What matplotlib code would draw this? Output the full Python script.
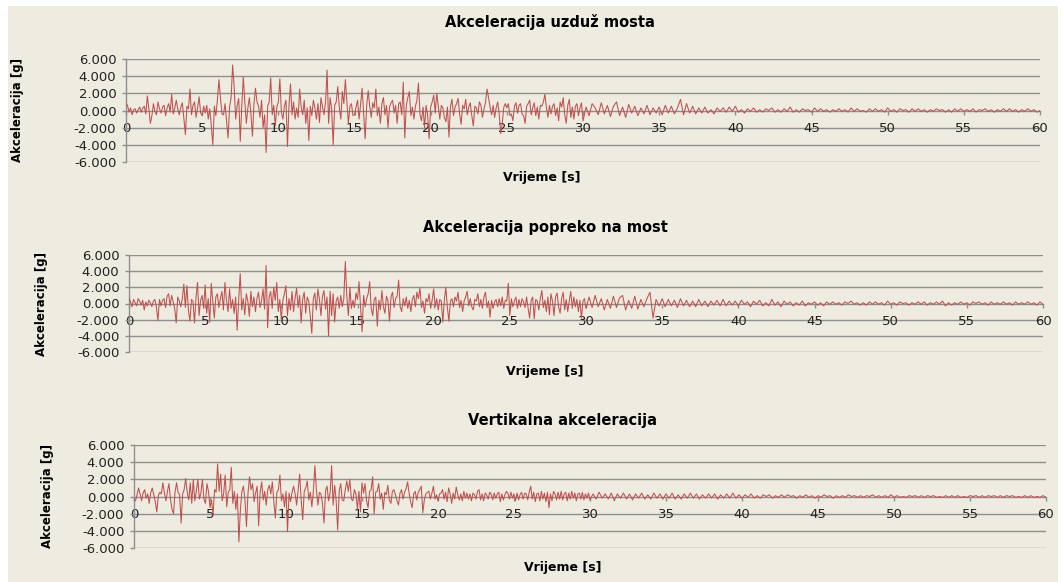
import numpy as np
import matplotlib
matplotlib.use("Agg")
import matplotlib.pyplot as plt

# vremenski koraci: 0.1 s do 30 s, 0.2 s od 30 do 60 s
t_fast = np.arange(300) * 0.1
t_slow = 30 + np.arange(151) * 0.2

# Akceleracija uzduz mosta [g], 0-30 s (jedan red = 1 s)
uzduz_fast = [
    0.8, 0.6, -0.2, 0.3, -0.5, 0.1, 0.2, -0.3, 0.1, 0.4,
    -0.2, 0.3, 0.5, -0.4, 1.7, 0.2, -1.5, -0.6, 0.8, -0.1,
    -0.5, 1.0, 0.2, -0.3, 0.4, 0.6, -0.6, 0.3, 0.8, -0.2,
    1.9, -0.4, 0.3, 1.2, 0.2, -0.5, 0.4, 0.9, -1.0, -2.8,
    0.5, 0.2, 2.5, -0.5, 0.6, 1.0, -0.8, 0.3, 1.6, -0.3,
    -0.6, 0.5, -0.3, 0.6, -1.0, 0.2, -1.8, -4.0, 0.5, -0.6,
    1.2, 3.6, 1.5, -0.4, -0.5, 0.8, -1.2, -3.2, 0.4, 1.5,
    5.3, 2.8, -1.0, 0.6, 1.4, -3.6, 0.5, 3.9, 1.0, -1.5,
    0.3, 1.5, -0.4, -3.0, 0.8, 2.6, 1.0, 0.5, -0.8, 1.2,
    -2.0, -0.5, -4.9, 0.5, 1.0, 3.8, -0.5, 0.6, -1.8, 0.4,
    1.0, 3.7, -0.2, -1.0, 0.5, 1.2, -4.2, 0.6, 3.1, -0.5,
    1.0, -1.0, 0.3, -0.8, 2.5, 0.4, -0.5, 1.2, -1.5, 0.3,
    -3.5, 0.5, -0.6, 1.2, 0.3, -1.0, 0.8, -1.4, 1.5, 0.4,
    -0.5, 1.0, 4.7, -1.5, 1.5, 0.2, -4.0, 0.6, 1.0, 2.8,
    0.4, -1.0, 2.2, 0.8, 3.6, 1.0, -1.5, 0.5, 0.8, -0.6,
    -0.5, 0.4, 1.2, -1.0, 0.7, 2.6, -0.4, -3.3, 0.6, 2.3,
    0.5, -0.8, 0.9, 0.3, 2.5, -0.6, 0.4, -1.5, 0.8, 1.5,
    -0.5, 0.6, -2.0, 0.4, 0.9, 1.2, -0.3, 0.6, -1.5, 0.8,
    1.0, -0.5, 3.3, -3.2, 0.6, 1.5, 2.2, -0.6, 0.4, -1.0,
    0.5, 1.2, 3.2, -0.5, -1.2, 0.4, -2.0, 0.6, -0.5, -3.3,
    0.4, 1.0, 1.8, -0.3, 2.0, 0.5, -1.0, 0.6, 0.3, -0.8,
    -1.3, 0.4, -3.1, 0.5, 1.3, -0.6, 0.4, 0.8, 1.4, -0.4,
    -1.6, 0.6, 0.2, 1.3, -0.5, 0.4, 0.9, -0.6, -1.8, 0.5,
    0.3, -0.4, 1.0, 0.6, -0.8, 0.2, 0.9, 2.5, 1.5, 0.4,
    -0.5, 0.6, -0.8, 0.3, 1.0, -0.4, -2.7, -1.5, 0.4, 0.8,
    0.3, 0.8, -0.6, -0.4, -1.2, 0.5, 0.9, -0.3, 0.6, 0.8,
    -0.4, -0.6, -1.5, 0.5, 0.8, 1.2, -0.5, 0.3, 0.9, -0.6,
    0.4, -1.0, 0.6, 0.5, 1.0, 1.9, 0.3, -0.8, 0.6, -0.4,
    0.5, 0.8, -0.6, 0.3, -1.2, 1.0, 0.4, 1.5, -0.5, -1.5,
    0.6, 1.3, -0.8, 0.4, -1.0, 0.5, 0.8, -0.6, 0.3, 0.9,
]
# 30-60 s (jedan red = 1 s)
uzduz_slow = [
    -1.2, 0.4, -0.6, 0.8, 0.3,
    -0.5, 0.9, -0.4, 0.6, -0.7,
    0.5, 1.0, -0.6, 0.4, -0.8,
    0.7, -0.3, 0.5, -0.6, 0.3,
    -0.4, 0.6, -0.5, 0.3, -0.3,
    0.4, -0.5, 0.6, -0.3, 0.5,
    -0.4, 0.3, 1.3, -0.5, 0.8,
    -0.3, 0.5, -0.4, 0.3, -0.3,
    0.4, -0.3, 0.1, -0.4, 0.3,
    -0.1, 0.3, -0.2, 0.4, -0.1,
    0.5, -0.2, 0.1, -0.3, 0.2,
    -0.1, 0.3, -0.2, 0.1, -0.2,
    0.2, 0.0, 0.3, -0.2, 0.1,
    -0.2, 0.2, -0.1, 0.4, -0.2,
    0.1, -0.2, 0.2, 0.0, 0.1,
    -0.2, 0.3, -0.1, 0.2, -0.1,
    0.1, -0.2, 0.1, -0.1, 0.2,
    -0.1, 0.1, -0.2, 0.3, -0.1,
    0.2, -0.1, 0.0, -0.2, 0.2,
    -0.1, 0.2, -0.1, 0.1, -0.2,
    0.3, -0.1, 0.1, -0.2, 0.2,
    0.0, 0.1, -0.2, 0.2, -0.1,
    0.2, -0.1, 0.1, -0.2, 0.1,
    -0.1, 0.2, 0.0, 0.1, -0.2,
    0.1, -0.2, 0.2, -0.1, 0.2,
    -0.1, 0.1, -0.1, 0.2, -0.2,
    0.1, 0.0, 0.2, -0.1, 0.1,
    -0.2, 0.1, -0.1, 0.2, -0.1,
    0.2, -0.1, 0.1, -0.2, 0.1,
    -0.1, 0.2, -0.1, 0.1, -0.2,
    0.0,
]

# Akceleracija popreko na most [g]
popreko_fast = [
    0.7, 0.2, -0.4, 0.5, 0.1, -0.3, 0.6, 0.3, -0.2, 0.4,
    -0.8, 0.2, -0.3, 0.4, 0.1, -0.4, 0.3, 0.5, -0.5, -2.1,
    0.5, -0.3, 0.4, 0.6, -0.5, 0.9, 1.2, -0.3, 1.0, 0.2,
    -0.6, -2.4, 0.8, 0.3, -0.4, 0.6, 2.4, -0.5, 2.2, -0.8,
    -2.2, 0.5, 0.3, -2.4, 0.8, 2.6, -1.5, 0.4, 1.0, -0.6,
    2.3, -1.2, 0.6, -2.3, 2.5, 0.3, -1.8, 0.8, 1.2, -0.5,
    0.6, 1.5, -0.8, 2.6, 0.4, -1.0, 1.8, -0.6, 0.5, -1.2,
    0.8, -3.3, 0.5, 3.7, -0.8, 0.6, -1.4, 1.2, 0.3, -1.6,
    1.5, -0.4, 0.8, -1.0, 0.6, 1.4, -0.5, 0.3, 1.8, -0.7,
    4.7, -3.0, 0.8, 1.5, -0.6, 2.0, 0.4, 2.6, -1.0, 0.5,
    -2.0, 0.4, 1.2, 2.2, -1.5, 0.6, -0.8, 1.5, -1.0, 0.6,
    1.9, -0.5, 1.0, -2.4, 0.5, 1.4, -1.2, 0.8, 0.3, -1.6,
    -3.7, 0.6, 1.3, -0.8, 1.8, 0.5, -1.5, 0.9, 1.6, -0.7,
    0.8, -4.0, 1.5, -1.5, 1.2, -2.3, 0.3, 0.8, -0.6, 1.0,
    -0.4, 0.6, 5.2, 0.8, -1.5, 2.0, -0.6, 0.4, -0.5, 1.3,
    0.5, 2.7, -0.5, -3.5, 1.0, -0.4, 0.6, 1.2, 2.7, -0.6,
    -1.5, 0.5, 0.8, -2.8, 0.4, -0.8, 1.6, -0.4, -1.2, 0.9,
    0.3, -2.2, 0.8, 1.4, -0.5, 0.6, 0.9, 2.9, -0.4, -1.0,
    0.6, -0.3, 0.8, -0.6, 0.4, -1.0, 0.5, 1.0, -0.4, 1.4,
    0.6, 1.9, -0.5, 0.3, -1.2, 0.6, 0.2, 1.2, -0.6, 0.4,
    1.8, -0.4, 0.6, -0.8, 0.5, 0.3, -2.3, 0.4, 2.0, -0.5,
    -2.2, 0.3, 0.6, -0.4, 0.8, 0.3, 1.4, -0.5, 0.4, -1.0,
    0.3, 0.8, 1.5, -0.3, 0.6, -0.4, -0.8, 0.5, 0.3, 1.2,
    -0.4, 0.5, -0.6, 0.8, 1.4, -0.5, 0.3, -1.7, 0.4, -0.6,
    0.2, 0.5, -0.4, 0.6, -0.3, 0.8, -0.6, 0.4, 0.3, 2.5,
    -1.5, 0.6, -0.4, 0.3, 0.8, -0.6, 0.5, -0.4, 0.6, 0.2,
    -0.5, 0.8, -0.6, -1.8, 0.4, 0.8, -1.9, 0.5, 0.3, -0.8,
    0.6, 1.6, -0.5, 0.4, -1.0, 0.8, -1.4, 1.2, 0.3, -1.5,
    0.8, 1.3, -0.4, -1.2, 0.6, 1.4, -0.8, 0.5, -1.0, 0.3,
    1.5, -0.6, 0.8, -0.4, 0.5, -1.0, 0.4, -1.8, 0.3, 0.6,
]
popreko_slow = [
    -0.6, 0.8, -0.5, 1.0, -0.4,
    0.6, -0.8, 0.5, -0.6, 0.9,
    -0.5, 0.7, 1.0, -0.8, 0.4,
    -0.6, 0.9, -0.7, 0.5, -0.4,
    0.6, 1.4, -1.8, 0.5, -0.3,
    0.6, -0.4, 0.5, -0.3, 0.4,
    -0.5, 0.6, -0.3, 0.4, -0.4,
    0.3, -0.4, 0.5, -0.3, 0.3,
    -0.4, 0.3, -0.2, 0.4, -0.3,
    0.5, -0.3, 0.3, -0.2, 0.3,
    -0.3, 0.4, -0.1, 0.2, -0.4,
    0.3, -0.1, 0.4, -0.3, 0.1,
    -0.3, 0.5, -0.2, 0.2, -0.4,
    0.3, -0.1, 0.2, -0.3, 0.1,
    -0.2, 0.3, -0.3, 0.1, -0.1,
    0.2, -0.2, 0.1, -0.3, 0.2,
    -0.1, 0.2, -0.1, 0.1, -0.2,
    0.2, 0.0, 0.3, -0.1, 0.1,
    -0.2, 0.1, -0.2, 0.2, -0.1,
    0.2, -0.1, 0.1, -0.2, 0.3,
    -0.1, 0.1, -0.2, 0.2, 0.0,
    0.1, -0.2, 0.1, -0.1, 0.2,
    -0.1, 0.2, -0.2, 0.1, -0.1,
    0.2, -0.1, 0.3, -0.3, 0.1,
    -0.2, 0.1, -0.1, 0.2, -0.1,
    0.1, -0.2, 0.2, 0.0, 0.2,
    -0.1, 0.1, -0.2, 0.2, -0.1,
    0.1, -0.1, 0.2, -0.1, 0.1,
    -0.2, 0.2, -0.1, 0.1, -0.1,
    0.2, -0.1, 0.1, -0.2, 0.2,
    -0.1,
]

# Vertikalna akceleracija [g]
vert_fast = [
    -0.3, -0.5, 0.2, 1.0, 0.3, -0.5, 0.4, 0.8, -0.2, 0.3,
    -0.8, 0.4, 1.0, 0.2, -0.6, -1.8, 0.1, 0.5, 0.3, 1.6,
    0.4, -0.5, 0.6, 1.5, -0.3, -1.5, -2.0, 0.5, 1.6, 0.5,
    0.2, -3.1, 0.3, 0.8, 2.1, 0.5, -0.4, 1.6, -0.8, 2.0,
    -0.5, 0.6, 2.0, -0.3, 0.4, 2.0, -0.3, -0.8, 1.5, 0.6,
    -1.3, -0.4, -2.2, 0.8, 0.5, 3.8, 0.6, 2.6, -0.5, 0.4,
    2.5, -1.2, 0.5, 0.8, 3.4, -0.8, 0.6, -1.5, 0.3, -5.3,
    -1.5, 0.6, 1.2, -0.4, -3.5, 0.4, 2.3, 0.8, 1.5, -0.6,
    0.4, 1.2, -3.4, 0.5, 1.7, -0.4, 0.6, -1.0, 0.8, 1.3,
    0.3, 1.7, -0.6, -2.5, 0.5, 0.8, 2.5, -0.5, 0.3, -1.2,
    0.6, -4.1, 0.4, -0.6, 0.5, 1.2, 0.3, -1.0, 0.8, 2.6,
    -0.5, -2.7, 0.6, 1.0, 1.8, -0.4, 0.5, -1.2, 0.6, 3.6,
    0.8, -1.0, 0.5, 0.3, -0.8, -3.1, 0.6, 1.2, -0.5, 0.4,
    3.6, -1.0, 1.3, -0.5, -3.9, 0.6, 1.5, -0.4, -0.5, 0.8,
    1.8, 0.6, 2.0, -0.3, -0.5, 0.8, 0.3, -1.5, 0.6, -1.8,
    1.6, 0.4, 1.5, -0.5, -1.3, 0.6, 0.8, 2.3, -2.0, 0.5,
    0.6, 1.5, -0.3, 0.4, -1.5, 0.5, 0.2, 1.3, -0.4, -0.8,
    0.6, 0.8, 0.2, -0.5, -1.0, 0.4, 0.8, -0.3, 0.5, 0.9,
    1.7, 0.4, -0.6, -1.3, 0.3, 0.6, -0.4, 0.5, 0.8, 1.2,
    -1.9, -0.4, 0.3, 0.5, 0.6, -0.3, 0.4, 1.2, -0.3, 0.2,
    -0.5, 0.3, 0.4, 0.8, -0.3, 0.5, -0.6, 1.0, 0.3, -0.8,
    0.4, -0.3, 1.1, 0.2, -0.4, 0.3, -0.5, 0.6, -0.2, 0.4,
    -0.3, 0.3, -0.5, 0.4, 0.2, -0.3, 0.6, 0.8, -0.4, 0.3,
    -0.5, 0.4, 0.2, -0.3, 0.5, 0.3, -0.4, 0.4, -0.2, 0.3,
    0.5, -0.6, 0.3, -0.4, 0.2, 0.6, 0.4, -0.3, 0.5, -0.2,
    0.3, -0.5, 0.4, -0.4, 0.2, 0.5, -0.3, 0.4, 0.3, -0.4,
    0.5, 1.2, -0.3, 0.5, -0.6, 0.3, 0.4, -0.5, 0.6, -0.3,
    0.4, -0.6, 0.5, -1.3, 0.3, -0.5, 0.6, 0.3, -0.4, 0.5,
    -0.3, 0.6, -0.4, 0.3, 0.5, -0.5, 0.4, -0.3, 0.6, -0.2,
    0.4, -0.5, 0.3, 0.4, -0.3, 0.5, -0.4, 0.3, -0.2, 0.4,
]
vert_slow = [
    -0.4, 0.3, -0.3, 0.5, -0.2,
    0.3, -0.3, 0.4, -0.5, 0.3,
    -0.2, 0.4, -0.3, 0.3, -0.4,
    0.3, -0.2, 0.4, -0.3, 0.2,
    -0.3, 0.4, -0.2, 0.3, -0.3,
    0.3, -0.2, 0.4, -0.3, 0.2,
    -0.3, 0.3, -0.2, 0.4, -0.2,
    0.3, -0.3, 0.2, -0.2, 0.3,
    -0.2, 0.3, -0.3, 0.2, -0.2,
    0.3, -0.2, 0.4, -0.2, 0.2,
    -0.2, 0.2, -0.1, 0.3, -0.2,
    0.1, -0.2, 0.2, 0.0, 0.2,
    -0.2, 0.1, -0.1, 0.2, -0.1,
    0.2, 0.0, 0.1, -0.2, 0.1,
    -0.1, 0.2, -0.1, 0.1, -0.2,
    0.1, -0.1, 0.2, 0.0, 0.1,
    -0.2, 0.1, -0.1, 0.1, -0.1,
    0.2, 0.0, 0.1, -0.1, 0.1,
    -0.1, 0.1, 0.0, 0.2, -0.1,
    0.1, -0.1, 0.1, -0.1, 0.2,
    -0.1, 0.1, -0.1, 0.0, -0.1,
    0.1, 0.0, 0.1, -0.1, 0.1,
    -0.1, 0.1, 0.0, 0.1, -0.1,
    0.0, -0.1, 0.1, -0.1, 0.1,
    -0.1, 0.1, -0.1, 0.0, -0.1,
    0.1, 0.0, 0.1, -0.1, 0.1,
    -0.1, 0.1, 0.0, 0.1, -0.1,
    0.1, -0.1, 0.1, 0.0, 0.1,
    -0.1, 0.0, -0.1, 0.1, -0.1,
    0.1, -0.1, 0.0, -0.1, 0.1,
    -0.1,
]

naslovi = ["Akceleracija uzduž mosta", "Akceleracija popreko na most",
           "Vertikalna akceleracija"]
serije = [(uzduz_fast, uzduz_slow), (popreko_fast, popreko_slow),
          (vert_fast, vert_slow)]
y_ticks = [-6, -4, -2, 0, 2, 4, 6]
x_ticks = [0, 5, 10, 15, 20, 25, 30, 35, 40, 45, 50, 55, 60]

bg = "#EEEBE1"
gridc = "#8F8F8F"
linec = "#C0504D"

# polozaj osi u pikselima (lijevo, desno, gore, dolje) i tekstova
W, H = 1064, 582
boxes = [(126, 1040, 59, 162), (129, 1043, 255, 352), (134, 1046, 445, 548)]
title_pos = [(550, 22), (545, 228), (563, 420)]
xlab_pos = [(542, 177), (545, 371), (563, 567)]
ylab_x = [18, 42, 47]

fig = plt.figure(figsize=(W / 100, H / 100), dpi=100)
fig.patch.set_facecolor("white")
# bez podloga s tankim bijelim rubom gore i lijevo
podloga = plt.Rectangle((8 / W, 0), 1 - 14 / W, 1 - 6 / H,
                        transform=fig.transFigure, facecolor=bg,
                        edgecolor="none", zorder=-10)
fig.add_artist(podloga)

for i in range(3):
    l, r, top, bot = boxes[i]
    ax = fig.add_axes([l / W, 1 - bot / H, (r - l) / W, (bot - top) / H])
    ax.set_facecolor(bg)
    t = np.concatenate([t_fast, t_slow])
    a = np.concatenate([serije[i][0], serije[i][1]])
    ax.plot(t, a, color=linec, lw=0.75, zorder=3)

    ax.set_xlim(0, 60)
    ax.set_ylim(-6, 6)
    ax.set_yticks(y_ticks)
    ax.set_yticklabels(["%.3f" % v for v in y_ticks])
    ax.set_xticks(x_ticks)
    ax.set_xticklabels([str(v) for v in x_ticks])
    for v in y_ticks:
        if v != 0:
            ax.axhline(v, color=gridc, lw=1.0, zorder=1)

    for s in ["top", "right"]:
        ax.spines[s].set_visible(False)
    ax.spines["left"].set_color(gridc)
    ax.spines["left"].set_linewidth(1.0)
    ax.spines["bottom"].set_position(("data", 0))
    ax.spines["bottom"].set_color(gridc)
    ax.spines["bottom"].set_linewidth(1.0)
    ax.tick_params(axis="y", direction="out", length=3, width=1, color=gridc,
                   labelsize=9.5, pad=4, labelcolor="#222222")
    ax.tick_params(axis="x", direction="out", length=3, width=1, color=gridc,
                   labelsize=9.5, pad=5, labelcolor="#222222")

    yc = (top + bot) / 2
    fig.text(title_pos[i][0] / W, 1 - title_pos[i][1] / H, naslovi[i],
             ha="center", va="center", fontsize=10.5, fontweight="bold")
    fig.text(xlab_pos[i][0] / W, 1 - xlab_pos[i][1] / H, "Vrijeme [s]",
             ha="center", va="center", fontsize=9, fontweight="bold")
    fig.text(ylab_x[i] / W, 1 - yc / H, "Akceleracija [g]", rotation=90,
             ha="center", va="center", fontsize=8.5, fontweight="bold")

fig.savefig("out.png", dpi=100, facecolor="white")
